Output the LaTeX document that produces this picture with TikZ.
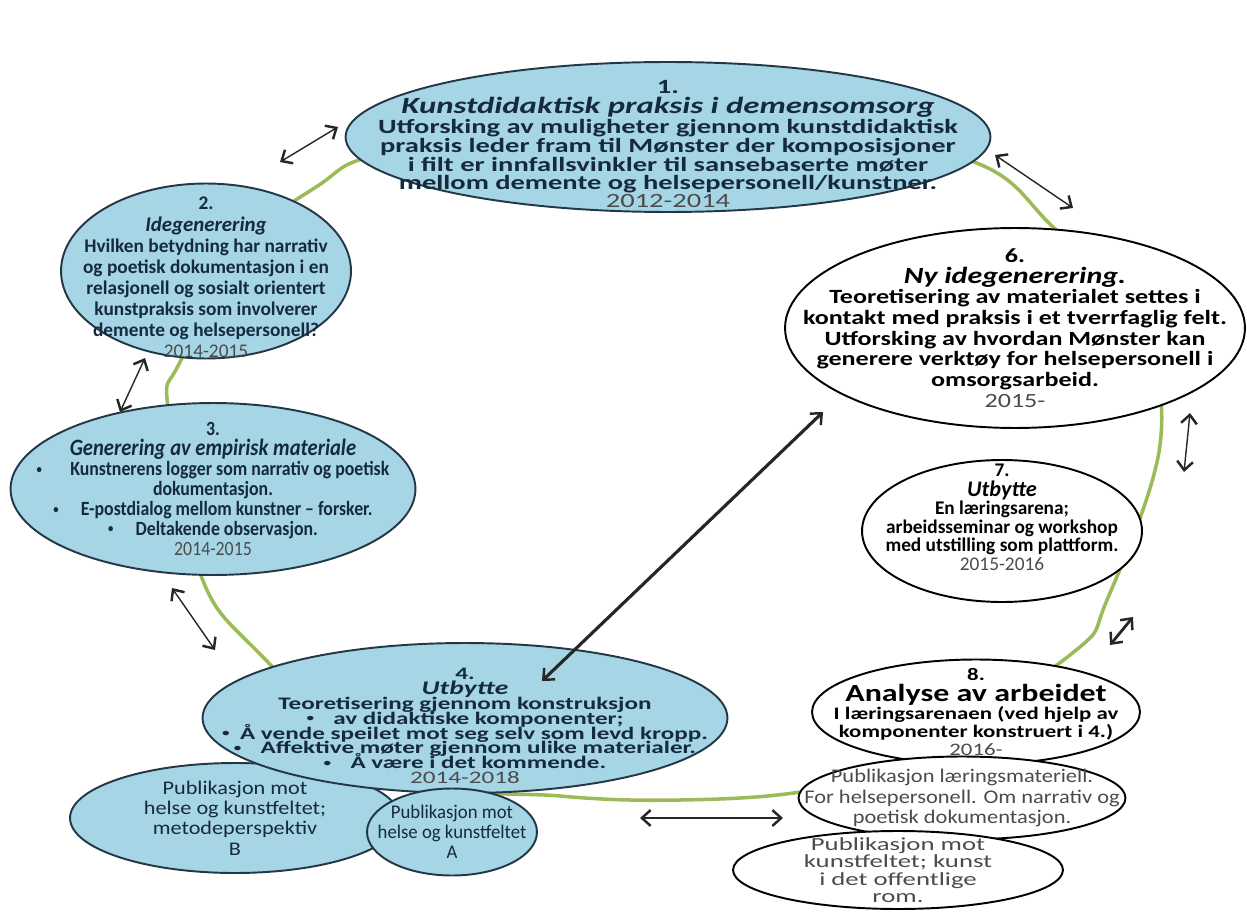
\documentclass[tikz,border=0pt]{standalone}
\usepackage{fontspec}
\setmainfont{Carlito}
\usetikzlibrary{shapes.geometric,arrows.meta}
\definecolor{skyfill}{RGB}{166,213,230}
\definecolor{inkblue}{RGB}{22,42,62}
\definecolor{rimblue}{RGB}{35,55,70}
\definecolor{yeargray}{RGB}{75,75,75}
\definecolor{ringgreen}{RGB}{155,187,89}
\newcommand{\fs}[3]{\addfontfeatures{FakeStretch=#3}\fontsize{#1}{#2}\selectfont}
\newcommand{\yr}[1]{{\mdseries\color{yeargray}#1}}
\newcommand{\ttl}[2][1.15]{{\itshape\fontsize{\fpeval{#1*\csname f@size\endcsname}}{\baselineskip}\selectfont #2}}
\newcommand{\bul}[1][1.1em]{\raisebox{1.3pt}{\scalebox{0.6}{\textbullet}}\hspace{#1}}

\begin{document}
\begin{tikzpicture}[x=0.02cm,y=-0.02cm,
  blob/.style={ellipse, draw=rimblue, line width=1.1pt, fill=skyfill, inner sep=0pt},
  blank/.style={blob, draw=black, fill=white},
  words/.style={align=center, inner sep=0pt, text=inkblue},
  blackwords/.style={words, text=black},
  graywords/.style={words, text=yeargray},
  tight/.style={execute at begin node={\lineskiplimit=-20pt}},
  twoway/.style={{Straight Barb[length=5pt,width=9pt,line width=1.4pt]}-{Straight Barb[length=5pt,width=9pt,line width=1.4pt]},
    line width=0.8pt, draw=black!85}]
\useasboundingbox (0,0) rectangle (1247,912);

% green ring behind the steps
\draw[ringgreen, line width=2pt] plot[smooth cycle, tension=0.6] coordinates {
  (660,122) (952,155) (1053,227) (1140,330) (1160,445) (1107,600) (1070,655)
  (900,765) (800,792) (680,800) (560,796) (400,775) (258,652) (200,573)
  (168,410) (180,362) (250,240) (322,183) (368,157) (500,128)};

% steps
\node[blob, minimum width=12.9cm, minimum height=3cm,
  label={[words, yshift=-4pt, font=\bfseries\fs{11.5}{10}{1.41}]center:{1.\\[1pt]
   \ttl{Kunstdidaktisk praksis i demensomsorg}\\
   Utforsking av muligheter gjennom kunstdidaktisk\\
   praksis leder fram til Mønster der komposisjoner\\
   i filt er innfallsvinkler til sansebaserte møter\\
   mellom demente og helsepersonell/kunstner.\\ \yr{2012-2014}}}] (s1) at (668,137) {};
\node[blob, minimum width=5.8cm, minimum height=3.5cm,
  label={[words, yshift=-3.7pt, font=\bfseries\fs{11}{12}{1.0}]center:{2.\\
   \ttl[1.08]{Idegenerering}\\ Hvilken betydning har narrativ\\
   og poetisk dokumentasjon i en\\ relasjonell og sosialt orientert\\
   kunstpraksis som involverer\\ demente og helsepersonell?\\ \yr{2014-2015}}}] (s2) at (206,271) {};
\node[blob, minimum width=8.1cm, minimum height=3.44cm,
  label={[words, font=\bfseries\fs{11.5}{11.3}{0.88}]center:{3.\\
   \ttl[1.16]{Generering av empirisk materiale}\\
   \bul[1.4em]Kunstnerens logger som narrativ og poetisk\\
   dokumentasjon.\\ \bul E-postdialog mellom kunstner -- forsker.\\
   \bul Deltakende observasjon.\\ \yr{2014-2015}}}] (s3) at (213,489) {};
\node[blob, minimum width=6.6cm, minimum height=2.2cm,
  label={[words, font=\fs{11}{11.6}{1.15}]center:{Publikasjon mot\\
   helse og kunstfeltet;\\ metodeperspektiv\\ B}}] (pB) at (235,818) {};
\node[blob, minimum width=10.5cm, minimum height=3cm,
  label={[words, tight, yshift=-4.5pt, font=\bfseries\fs{10}{8.5}{1.43}]center:{4.\\
   \ttl[1.1]{Utbytte}\\ Teoretisering gjennom konstruksjon\\
   \bul av didaktiske komponenter;\\
   \bul[0.6em]Å vende speilet mot seg selv som levd kropp.\\
   \bul Affektive møter gjennom ulike materialer.\\
   \bul Å være i det kommende.\\ \yr{2014-2018}}}] (s4) at (465,718) {};
\node[blob, minimum width=3.4cm, minimum height=1.74cm,
  label={[words, font=\fs{11}{11.4}{0.97}]center:{Publikasjon mot\\
   helse og kunstfeltet\\ A}}] (pA) at (452,832) {};
\node[blank, minimum width=9.2cm, minimum height=4cm,
  label={[blackwords, font=\bfseries\fs{11.5}{11.8}{1.29}]center:{6.\\
   \ttl{Ny idegenerering.}\\ Teoretisering av materialet settes i\\
   kontakt med praksis i et tverrfaglig felt.\\
   Utforsking av hvordan Mønster kan\\
   generere verktøy for helsepersonell i\\ omsorgsarbeid.\\ \yr{2015-}}}] (s6) at (1015,328) {};
\node[blank, minimum width=5.6cm, minimum height=2.84cm,
  label={[blackwords, yshift=8pt, font=\bfseries\fs{11}{10.5}{1.0}]center:{7.\\[1pt]
   \ttl{Utbytte}\\ En læringsarena;\\ arbeidsseminar og workshop\\
   med utstilling som plattform.\\ \yr{2015-2016}}}] (s7) at (1002,531) {};
\node[blank, minimum width=6.56cm, minimum height=2.1cm,
  label={[blackwords, font=\bfseries\fs{10}{10.4}{1.3}]center:{8.\\[1.5pt]
   {\fontsize{14}{13}\selectfont Analyse av arbeidet}\\
   I læringsarenaen (ved hjelp av\\ komponenter konstruert i 4.)\\ \yr{2016-}}}] (s8) at (976,712) {};
\node[blank, minimum width=6.54cm, minimum height=1.66cm,
  label={[graywords, font=\fs{11}{11.6}{1.16}]center:{Publikasjon læringsmateriell.\\
   For helsepersonell. Om narrativ og\\ poetisk dokumentasjon.}}] (pL) at (962,798) {};
\node[blank, minimum width=6.6cm, minimum height=1.56cm,
  label={[graywords, font=\fs{10.5}{9.9}{1.45}]center:{Publikasjon mot\\
   kunstfeltet; kunst\\ i det offentlige\\ rom.}}] (pK) at (898,870) {};

% arrow ends
\coordinate (a12) at (280,162);  \coordinate (a21) at (338,127);
\coordinate (a16) at (995,155);  \coordinate (a61) at (1073,208);
\coordinate (a23) at (145,358);  \coordinate (a32) at (120,412);
\coordinate (a34) at (172,588);  \coordinate (a43) at (215,650);
\coordinate (a46) at (542,681);  \coordinate (a64) at (823,412);
\coordinate (a67) at (1190,413); \coordinate (a76) at (1184,472);
\coordinate (a78) at (1133,617); \coordinate (a87) at (1110,645);
\coordinate (aAL) at (640,818);  \coordinate (aLA) at (783,818);

\draw[twoway] (a12) -- (a21);
\draw[twoway] (a16) -- (a61);
\draw[twoway] (a23) -- (a32);
\draw[twoway] (a34) -- (a43);
\draw[twoway, line width=1.8pt] (a46) -- (a64);
\draw[twoway] (a67) -- (a76);
\draw[twoway, line width=1.6pt] (a78) -- (a87);
\draw[twoway] (aAL) -- (aLA);
\end{tikzpicture}
\end{document}
